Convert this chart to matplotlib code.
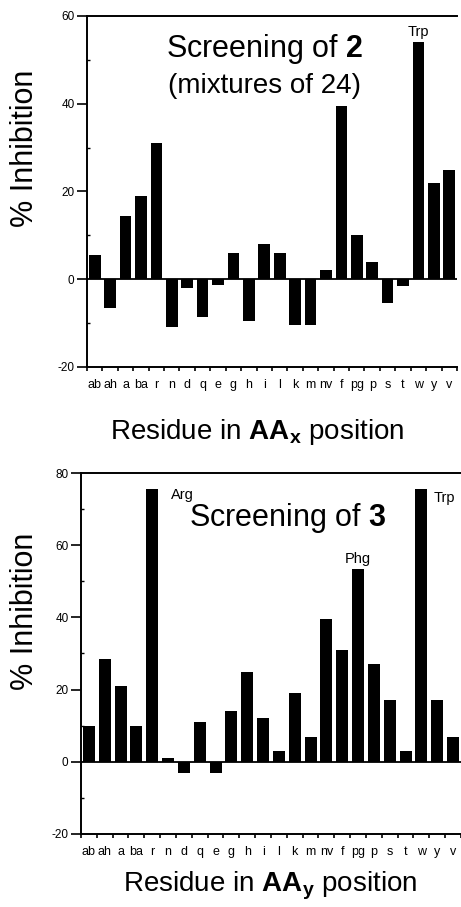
import numpy as np
import matplotlib.pyplot as plt
from matplotlib.ticker import MultipleLocator, FixedLocator

plt.rcParams['font.family'] = ['Liberation Sans', 'DejaVu Sans']
plt.rcParams['mathtext.fontset'] = 'custom'
plt.rcParams['mathtext.rm'] = 'Liberation Sans'
plt.rcParams['mathtext.bf'] = 'Liberation Sans:bold'
plt.rcParams['axes.unicode_minus'] = False

residues = ["ab", "ah", "a", "ba", "r", "n", "d", "q", "e", "g", "h", "i",
            "l", "k", "m", "nv", "f", "pg", "p", "s", "t", "w", "y", "v"]

# screening of 2 (AAx position)
inhib2 = [5.5, -6.5, 14.5, 19, 31, -11, -2, -8.5, -1.3, 6, -9.5, 8,
          6, -10.5, -10.5, 2, 39.5, 10, 4, -5.5, -1.5, 54, 22, 25]

# screening of 3 (AAy position)
inhib3 = [10, 28.5, 21, 10, 75.5, 1, -3, 11, -3, 14, 25, 12,
          3, 19, 7, 39.5, 31, 53.5, 27, 17, 3, 75.5, 17, 7]

fig = plt.figure(figsize=(4.61, 9.07), dpi=100)
ax1 = fig.add_axes([0.1887, 0.5954, 0.8026, 0.3870])
ax2 = fig.add_axes([0.1757, 0.0805, 0.8243, 0.3980])


def style(ax, vals, ylim, sub):
    x = np.arange(len(residues))
    ax.bar(x, vals, width=0.76, color='black')
    ax.axhline(0, color='black', lw=1.3)
    ax.set_xlim(-0.5, len(residues) - 0.5)
    ax.set_ylim(*ylim)
    ax.spines['right'].set_visible(False)
    for s in ['left', 'top', 'bottom']:
        ax.spines[s].set_linewidth(1.4)
    ax.yaxis.set_major_locator(MultipleLocator(20))
    ax.yaxis.set_minor_locator(MultipleLocator(10))
    ax.tick_params(axis='y', which='major', direction='out', length=7,
                   width=1.2, labelsize=8.5, pad=2)
    ax.tick_params(axis='y', which='minor', direction='in', length=2, width=1)
    ax.set_xticks(x)
    ax.set_xticklabels(residues, fontsize=9)
    ax.xaxis.set_minor_locator(FixedLocator(np.arange(-0.5, len(residues), 1)))
    ax.tick_params(axis='x', which='major', length=0, pad=9)
    ax.tick_params(axis='x', which='minor', direction='out', length=3, width=1.2)
    ax.set_ylabel('% Inhibition', fontsize=22)
    ax.set_xlabel(r'Residue in $\mathbf{AA_{' + sub + '}}$ position',
                  fontsize=20)


style(ax1, inhib2, (-20, 60), 'x')
style(ax2, inhib3, (-20, 80), 'y')

ax1.yaxis.set_label_coords(-0.127, 0.624)
ax1.xaxis.set_label_coords(0.459, -0.142)
ax2.yaxis.set_label_coords(-0.108, 0.618)
ax2.xaxis.set_label_coords(0.497, -0.1)

ax1.text(0.48, 0.905, r'Screening of $\mathbf{2}$', transform=ax1.transAxes,
         ha='center', va='center', fontsize=22)
ax1.text(0.48, 0.8, '(mixtures of 24)', transform=ax1.transAxes,
         ha='center', va='center', fontsize=20)
ax1.text(21, 54.8, 'Trp', ha='center', va='bottom', fontsize=10.5)

ax2.text(0.545, 0.875, r'Screening of $\mathbf{3}$', transform=ax2.transAxes,
         ha='center', va='center', fontsize=22)
ax2.text(5.2, 72, 'Arg', ha='left', va='bottom', fontsize=10.5)
ax2.text(21.8, 71, 'Trp', ha='left', va='bottom', fontsize=10.5)
ax2.text(17, 54.3, 'Phg', ha='center', va='bottom', fontsize=10.5)

fig.savefig('out.png', dpi=100)
